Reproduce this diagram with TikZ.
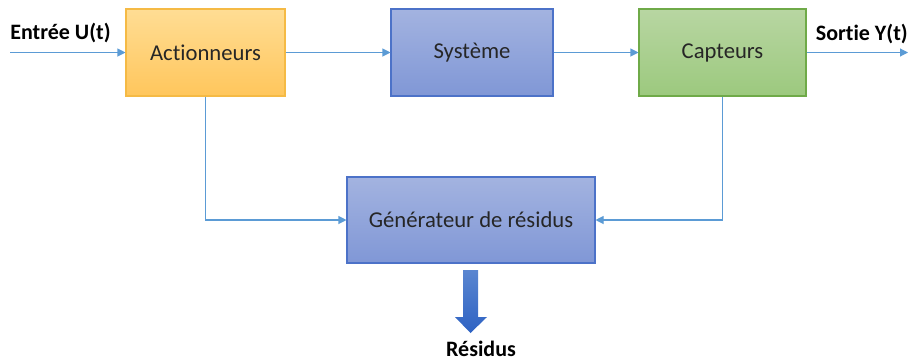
\documentclass[tikz,border=0pt]{standalone}
\usepackage{fontspec}
\setmainfont[Ligatures={NoCommon,TeX}]{Carlito}
\usetikzlibrary{arrows.meta,positioning,shadings}
\definecolor{linec}{HTML}{5B9BD5}
\definecolor{yelA}{HTML}{FFDD94}
\definecolor{yelB}{HTML}{FFC65C}
\definecolor{yelD}{HTML}{F5BA45}
\definecolor{bluA}{HTML}{A3B3E0}
\definecolor{bluB}{HTML}{8097D6}
\definecolor{bluD}{HTML}{4C72C8}
\definecolor{grnA}{HTML}{B8D6A2}
\definecolor{grnB}{HTML}{9CC97E}
\definecolor{grnD}{HTML}{6FAA48}
\definecolor{arrA}{HTML}{5A86D0}
\definecolor{arrB}{HTML}{2E62C3}
\tikzset{
  blk/.style={minimum height=87*0.75pt, inner sep=0pt, font=\fontsize{17}{20}\selectfont, text=black!85, line width=0.8pt},
  yelbox/.style={blk, draw=yelD, top color=yelA, bottom color=yelB},
  blubox/.style={blk, draw=bluD, top color=bluA, bottom color=bluB},
  grnbox/.style={blk, draw=grnD, top color=grnA, bottom color=grnB},
  conn/.style={draw=linec, line width=0.8pt, -{Triangle[length=6pt,width=6pt]}},
  lbl/.style={font=\bfseries\fontsize{16.5}{19}\selectfont, inner sep=0pt},
}
\begin{document}
\begin{tikzpicture}[x=0.75pt,y=-0.75pt]
\useasboundingbox (0,0) rectangle (910,362);
\node[yelbox, minimum width=159*0.75pt] (act) at (205.5,52.5) {Actionneurs};
\node[blubox, minimum width=162*0.75pt] (sys) at (472,52.5) {Système};
\node[grnbox, minimum width=167*0.75pt] (cap) at (722.5,52.5) {Capteurs};
\node[blubox, minimum width=248*0.75pt, minimum height=86*0.75pt] (gen) at (471,220) {Générateur de résidus};
\coordinate (in) at (10,52.5);
\coordinate (out) at (908,52.5);
\node[lbl, anchor=west] (inl) at (10,33) {Entrée U(t)};
\node[lbl, anchor=east] (outl) at (908,34) {Sortie Y(t)};
\draw[conn] (in) -- (act);
\draw[conn] (act) -- (sys);
\draw[conn] (sys) -- (cap);
\draw[conn] (cap) -- (out);
\draw[conn] (act.south) |- (gen.west);
\draw[conn] (cap.south) |- (gen.east);
\shade[top color=arrA, bottom color=arrB, draw=none]
  (463,270) -- (478,270) -- (478,317) -- (487,317) -- (470.5,333) -- (455,317) -- (463,317) -- cycle;
\node[lbl] (res) at (481,349) {Résidus};
\end{tikzpicture}
\end{document}
